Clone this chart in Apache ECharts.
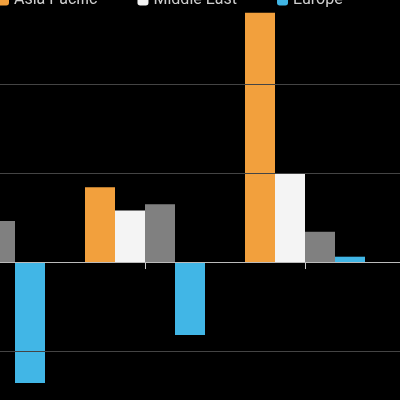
<!DOCTYPE html>
<html><head><meta charset="utf-8">
<script src="https://cdn.jsdelivr.net/npm/echarts@6/dist/echarts.min.js"></script>
<style>html,body{margin:0;background:#000}#c{width:400px;height:400px}</style>
</head><body><div id="c"></div>
<script>
const categories = [0, 1, 2];
const seriesNames = ['Asia Pacific', 'Middle East', 'Other', 'Europe'];
const asiaPacific = [null, 8.4, 28.0];
const middleEast = [null, 5.8, 10.0];
const other = [4.6, 6.5, 3.4];
const europe = [-13.6, -8.2, 0.6];
const gridValues = [-10, 0, 10, 20];
const tickValues = [1, 2];
const colors = ['#f2a03d', '#f4f4f4', '#808080', '#41b6e6'];
const allData = [asiaPacific, middleEast, other, europe];

const chart = echarts.init(document.getElementById('c'));
chart.setOption({
  backgroundColor: '#000',
  animation: false,
  legend: {
    data: ['Asia Pacific', 'Middle East', 'Europe'],
    left: -7, top: -13, itemGap: 40, itemWidth: 11, itemHeight: 11,
    textStyle: { color: '#cfcfcf', fontSize: 16, fontFamily: 'Roboto' }
  },
  grid: { left: 0, right: 0, top: 0, bottom: 0 },
  xAxis: {
    type: 'value', min: 0.09375, max: 2.59375, offset: -17,
    axisLine: { show: false }, splitLine: { show: false },
    axisTick: { show: true, customValues: tickValues, length: 7, lineStyle: { color: '#ccc' } },
    axisLabel: { show: false }
  },
  yAxis: {
    type: 'value', min: -15.5, max: 29.44,
    axisLabel: { show: false }, axisLine: { show: false }, axisTick: { show: false },
    splitLine: { show: false }
  },
  series: seriesNames.map((n, i) => ({
    name: n, type: 'bar', barWidth: 30, barGap: '0%', clip: false,
    data: categories.map((c, j) => [c, allData[i][j]]),
    itemStyle: { color: colors[i] },
    markLine: i === 0 ? {
      silent: true, symbol: 'none', label: { show: false },
      data: gridValues.map(v => ({ yAxis: v, lineStyle: { color: v === 0 ? '#bbb' : '#444', width: 1, type: 'solid' } }))
    } : undefined
  }))
});
</script></body></html>
